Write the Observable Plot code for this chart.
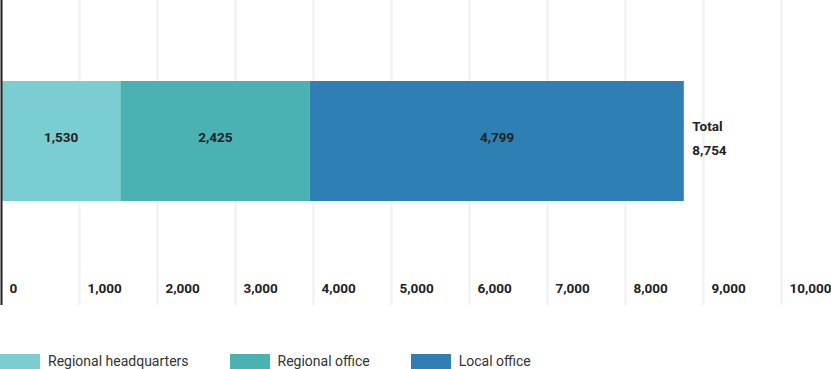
<!DOCTYPE html>
<html>
<head>
<meta charset="utf-8">
<script src="https://cdn.jsdelivr.net/npm/d3@7"></script>
<script src="https://cdn.jsdelivr.net/npm/@observablehq/plot@0.6"></script>
<style>
  html, body { margin: 0; padding: 0; background: #fff; font-family: Roboto, "Open Sans", sans-serif; }
  #chart svg { display: block; }
  .legend { display: flex; margin-top: 44px; font-size: 14px; color: #333; }
  .legend .item { display: flex; align-items: center; margin-right: 41px; }
  .legend .sw { width: 40px; height: 15px; margin-right: 8px; }
  .legend span { line-height: 15px; }
</style>
</head>
<body>
<div id="chart"></div>
<script>
const categories = ["Regional headquarters", "Regional office", "Local office"];
const values = [1530, 2425, 4799];
const colors = ["#7acdd0", "#4ab2b2", "#2e80b4"];
const tickValues = [0, 1000, 2000, 3000, 4000, 5000, 6000, 7000, 8000, 9000, 10000];
const rowLabel = "Total";

const data = categories.map((c, i) => ({row: rowLabel, category: c, value: values[i]}));
const total = d3.sum(values);
const fmt = d3.format(",");

const plot = Plot.plot({
  width: 831,
  height: 310,
  marginLeft: 1,
  marginRight: 50,
  marginTop: 0,
  marginBottom: 5,
  style: {fontFamily: "Roboto, sans-serif", background: "#fff"},
  x: {domain: [0, 10000], axis: null},
  y: {domain: [rowLabel], axis: null, padding: 0.4353, align: 0.438},
  color: {domain: categories, range: colors},
  marks: [
    Plot.ruleX(tickValues, {stroke: "#f0f0f0", strokeWidth: 2}),
    Plot.barX(data, Plot.stackX({x: "value", y: "row", fill: "category"})),
    Plot.text(data, Plot.stackX({x: "value", y: "row", text: d => fmt(d.value), fill: "#222", fontSize: 13.5, fontWeight: "bold", dy: -4})),
    Plot.text([total], {x: d => d, y: () => rowLabel, text: d => "Total\n" + fmt(d), textAnchor: "start", dx: 8, dy: -6, lineHeight: 1.72, fill: "#222", fontSize: 13.5, fontWeight: "bold"}),
    Plot.text(tickValues, {x: d => d, text: d => fmt(d), frameAnchor: "bottom", textAnchor: "start", lineAnchor: "middle", dx: 8, dy: -17, fill: "#222", fontSize: 13.5, fontWeight: "bold"}),
    Plot.ruleX([0], {stroke: "#222", strokeWidth: 2})
  ]
});
document.getElementById("chart").appendChild(plot);

const legend = document.createElement("div");
legend.className = "legend";
categories.forEach((c, i) => {
  const item = document.createElement("div");
  item.className = "item";
  const sw = document.createElement("div");
  sw.className = "sw";
  sw.style.background = colors[i];
  const t = document.createElement("span");
  t.textContent = c;
  item.appendChild(sw);
  item.appendChild(t);
  legend.appendChild(item);
});
document.body.appendChild(legend);
</script>
</body>
</html>
